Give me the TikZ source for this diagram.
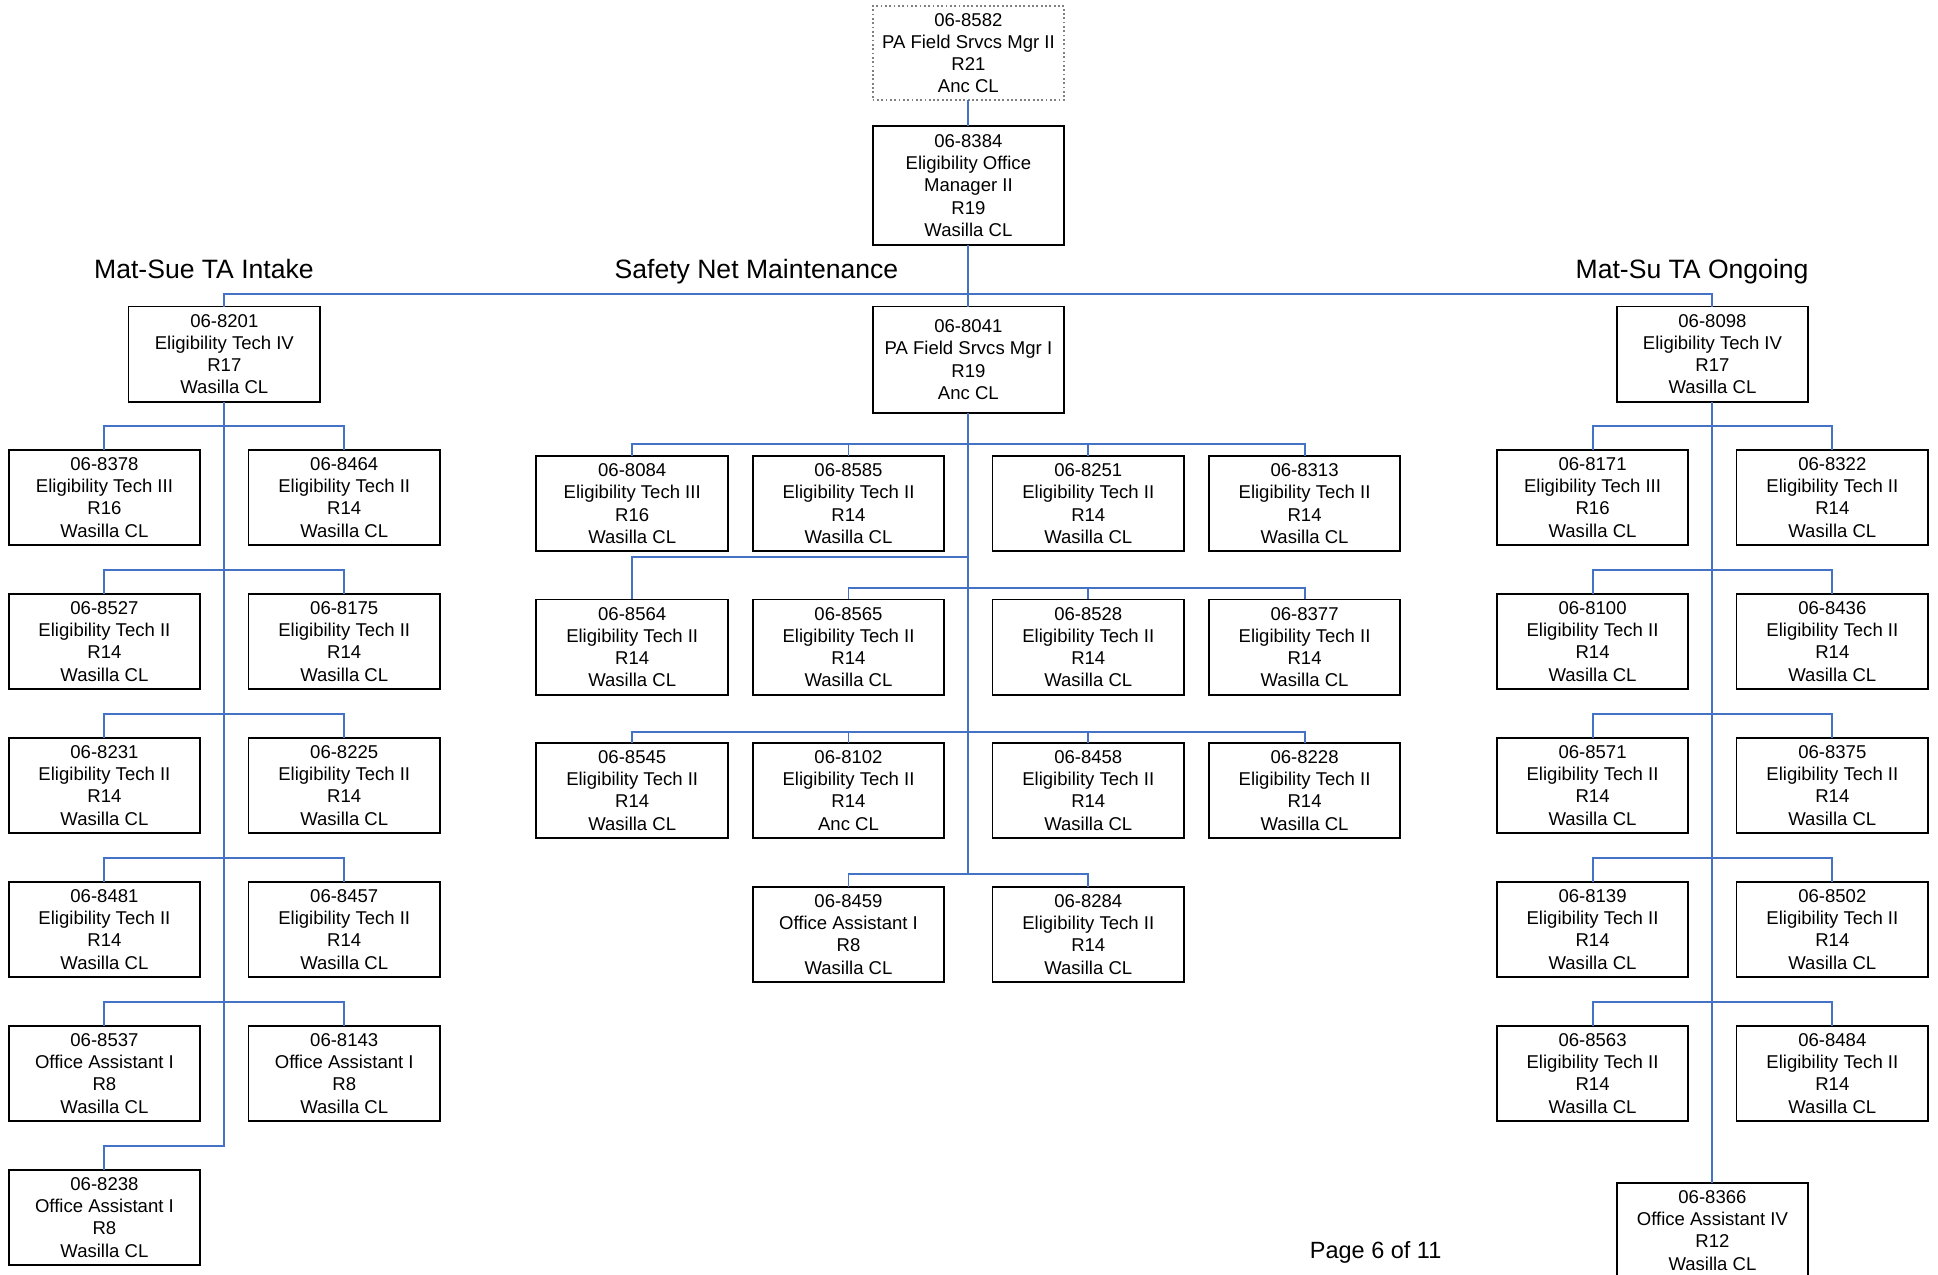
\documentclass[tikz,border=0pt]{standalone}
\usepackage{fontspec}
\setmainfont{Liberation Sans}
\usetikzlibrary{positioning,calc}
\definecolor{linkblue}{RGB}{68,114,196}

\begin{document}
\begin{tikzpicture}[x=1pt, y=-1pt,
    every node/.style={align=center, inner sep=2pt, font=\fontsize{15}{18}\selectfont},
    post/.style={draw, line width=1.5pt, outer sep=0pt, minimum width=155pt, minimum height=77pt},
    link/.style={draw=linkblue, line width=1.6pt},
    heading/.style={font=\fontsize{21.5}{24}\selectfont, text height=15.4pt, text depth=4.5pt}]
    \fill[white] (0,0) rectangle (1568,1031);
    \useasboundingbox (0,0) rectangle (1568,1031);

    % top of the chart
    \node[post, draw=gray, dotted, line width=1.5pt, minimum height=76pt] (pfsm2) at (783.5,43) {06-8582\\PA Field Srvcs Mgr II\\R21\\Anc CL};
    \node[post, minimum height=96pt, below=21pt of pfsm2] (eom) {06-8384\\Eligibility Office\\Manager II\\R19\\Wasilla CL};

    \node[heading] (hintake) at (165,220) {Mat-Sue TA Intake};
    \node[heading] (hsafety) at (612,220) {Safety Net Maintenance};
    \node[heading] (hongoing) at (1369,220) {Mat-Su TA Ongoing};

    % Mat-Sue TA Intake
    \node[post] (l8201) at (181.5,286.5) {06-8201\\Eligibility Tech IV\\R17\\Wasilla CL};
    \node[post] (l8378) at (84.5,402.5) {06-8378\\Eligibility Tech III\\R16\\Wasilla CL};
    \node[post, right=39pt of l8378] (l8464) {06-8464\\Eligibility Tech II\\R14\\Wasilla CL};
    \node[post, below=39.5pt of l8378] (l8527) {06-8527\\Eligibility Tech II\\R14\\Wasilla CL};
    \node[post, right=39pt of l8527] (l8175) {06-8175\\Eligibility Tech II\\R14\\Wasilla CL};
    \node[post, below=39.5pt of l8527] (l8231) {06-8231\\Eligibility Tech II\\R14\\Wasilla CL};
    \node[post, right=39pt of l8231] (l8225) {06-8225\\Eligibility Tech II\\R14\\Wasilla CL};
    \node[post, below=39.5pt of l8231] (l8481) {06-8481\\Eligibility Tech II\\R14\\Wasilla CL};
    \node[post, right=39pt of l8481] (l8457) {06-8457\\Eligibility Tech II\\R14\\Wasilla CL};
    \node[post, below=39.5pt of l8481] (l8537) {06-8537\\Office Assistant I\\R8\\Wasilla CL};
    \node[post, right=39pt of l8537] (l8143) {06-8143\\Office Assistant I\\R8\\Wasilla CL};
    \node[post, below=39.5pt of l8537] (l8238) {06-8238\\Office Assistant I\\R8\\Wasilla CL};

    % Safety Net Maintenance
    \node[post, minimum height=86pt] (m8041) at (783.5,291) {06-8041\\PA Field Srvcs Mgr I\\R19\\Anc CL};
    \node[post] (m8084) at (511.5,407.5) {06-8084\\Eligibility Tech III\\R16\\Wasilla CL};
    \node[post, right=20pt of m8084] (m8585) {06-8585\\Eligibility Tech II\\R14\\Wasilla CL};
    \node[post, right=39pt of m8585] (m8251) {06-8251\\Eligibility Tech II\\R14\\Wasilla CL};
    \node[post, right=20pt of m8251] (m8313) {06-8313\\Eligibility Tech II\\R14\\Wasilla CL};
    \node[post, below=39pt of m8084] (m8564) {06-8564\\Eligibility Tech II\\R14\\Wasilla CL};
    \node[post, below=39pt of m8585] (m8565) {06-8565\\Eligibility Tech II\\R14\\Wasilla CL};
    \node[post, below=39pt of m8251] (m8528) {06-8528\\Eligibility Tech II\\R14\\Wasilla CL};
    \node[post, below=39pt of m8313] (m8377) {06-8377\\Eligibility Tech II\\R14\\Wasilla CL};
    \node[post, below=39pt of m8564] (m8545) {06-8545\\Eligibility Tech II\\R14\\Wasilla CL};
    \node[post, below=39pt of m8565] (m8102) {06-8102\\Eligibility Tech II\\R14\\Anc CL};
    \node[post, below=39pt of m8528] (m8458) {06-8458\\Eligibility Tech II\\R14\\Wasilla CL};
    \node[post, below=39pt of m8377] (m8228) {06-8228\\Eligibility Tech II\\R14\\Wasilla CL};
    \node[post, below=39.5pt of m8102] (m8459) {06-8459\\Office Assistant I\\R8\\Wasilla CL};
    \node[post, below=39.5pt of m8458] (m8284) {06-8284\\Eligibility Tech II\\R14\\Wasilla CL};

    % Mat-Su TA Ongoing
    \node[post] (r8098) at (1385.5,286.5) {06-8098\\Eligibility Tech IV\\R17\\Wasilla CL};
    \node[post] (r8171) at (1288.5,402.5) {06-8171\\Eligibility Tech III\\R16\\Wasilla CL};
    \node[post, right=39pt of r8171] (r8322) {06-8322\\Eligibility Tech II\\R14\\Wasilla CL};
    \node[post, below=39.5pt of r8171] (r8100) {06-8100\\Eligibility Tech II\\R14\\Wasilla CL};
    \node[post, right=39pt of r8100] (r8436) {06-8436\\Eligibility Tech II\\R14\\Wasilla CL};
    \node[post, below=39.5pt of r8100] (r8571) {06-8571\\Eligibility Tech II\\R14\\Wasilla CL};
    \node[post, right=39pt of r8571] (r8375) {06-8375\\Eligibility Tech II\\R14\\Wasilla CL};
    \node[post, below=39.5pt of r8571] (r8139) {06-8139\\Eligibility Tech II\\R14\\Wasilla CL};
    \node[post, right=39pt of r8139] (r8502) {06-8502\\Eligibility Tech II\\R14\\Wasilla CL};
    \node[post, below=39.5pt of r8139] (r8563) {06-8563\\Eligibility Tech II\\R14\\Wasilla CL};
    \node[post, right=39pt of r8563] (r8484) {06-8484\\Eligibility Tech II\\R14\\Wasilla CL};
    \node[post] (r8366) at (1385.5,995.5) {06-8366\\Office Assistant IV\\R12\\Wasilla CL};

    \node[font=\fontsize{19}{22}\selectfont] (pagenum) at (1113,1013) {Page 6 of 11};

    % connectors
    \draw[link] (pfsm2) -- (eom);
    \draw[link] (eom.south) -- (m8041.north);
    \draw[link] (l8201.north) -- ++(0,-10) -| (r8098.north);

    \draw[link] (l8201.south) -- ++(0,602) -| (l8238.north);
    \foreach \a/\b in {l8378/l8464, l8527/l8175, l8231/l8225, l8481/l8457, l8537/l8143}
      \draw[link] (\a.north) -- ++(0,-19) -| (\b.north);

    \draw[link] (r8098.south) -- (r8366.north);
    \foreach \a/\b in {r8171/r8322, r8100/r8436, r8571/r8375, r8139/r8502, r8563/r8484}
      \draw[link] (\a.north) -- ++(0,-19) -| (\b.north);

    \draw[link] (m8041.south) -- ($(m8041.south |- m8459.north)+(0,-10)$);
    \draw[link] (m8084.north) -- ++(0,-10) -| (m8313.north);
    \foreach \n in {m8585, m8251}
      \draw[link] (\n.north) -- ++(0,-10);
    \draw[link] (m8564.north) -- ++(0,-34) -| (m8041.south);
    \draw[link] (m8565.north) -- ++(0,-9) -| (m8377.north);
    \draw[link] (m8528.north) -- ++(0,-9);
    \draw[link] (m8545.north) -- ++(0,-9) -| (m8228.north);
    \foreach \n in {m8102, m8458}
      \draw[link] (\n.north) -- ++(0,-9);
    \draw[link] (m8459.north) -- ++(0,-10) -| (m8284.north);
\end{tikzpicture}
\end{document}
